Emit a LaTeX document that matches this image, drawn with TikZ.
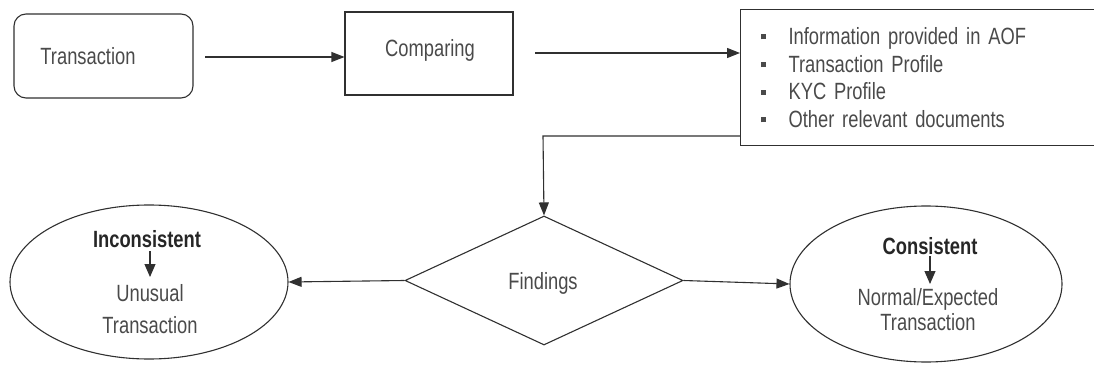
\documentclass[tikz,border=0pt]{standalone}
\usepackage{fontspec}
\setmainfont{Liberation Sans}[FakeStretch=0.78]
\usetikzlibrary{arrows.meta,shapes.geometric}
\definecolor{linec}{HTML}{303030}
\definecolor{textc}{HTML}{4A4A4A}
\definecolor{boldc}{HTML}{262626}
\tikzset{
  every node/.style={font=\fontsize{23.5}{27.7}\selectfont, text=textc},
  line/.style={draw=linec, line width=1.1pt},
  arr/.style={line, -{Triangle[length=13pt,width=10pt]}},
  smallarr/.style={line, -{Triangle[length=13pt,width=11pt]}},
  boxc/.style={line, rectangle, inner sep=0pt},
  lbl/.style={inner sep=0pt},
  bold/.style={inner sep=0pt, font=\fontsize{23.5}{27}\selectfont\bfseries, text=boldc},
}
\newcommand{\sqbul}{\rule[5pt]{5pt}{5pt}\hspace{23pt}}
\begin{document}
\begin{tikzpicture}[x=1pt,y=-1pt]
\useasboundingbox (0,0) rectangle (1094,366);
% top row
\node[boxc, rounded corners=12pt, minimum width=179pt, minimum height=84pt] (trans) at (103.5,56) {};
\node[lbl] (transt) at (88,56) {Transaction};
\node[boxc, minimum width=168pt, minimum height=83pt] (comp) at (429,53.5) {};
\node[lbl] (compt) at (430,50) {Comparing};
\node[boxc, anchor=north west, minimum width=370pt, minimum height=136pt,
      text width=330pt, inner xsep=18pt, align=left] (info) at (740,9)
  {\sqbul Information provided in AOF\\
   \sqbul Transaction Profile\\
   \sqbul KYC Profile\\
   \sqbul Other relevant documents};
\coordinate (tstart) at (205,57);
\coordinate (cstart) at (535,53);
\draw[arr] (tstart) -- (comp.west |- tstart);
\draw[arr] (cstart) -- (info.west |- cstart);
% bottom row
\node[line, diamond, inner sep=0pt, minimum width=278pt, minimum height=129pt, aspect=2.15] (find) at (544,280.5) {};
\node[lbl] (findt) at (543,283) {Findings};
\coordinate (fork) at (543,136);
\draw[arr] (info.west |- fork) -- (fork) -- (find.north);
\node[line, ellipse, inner sep=0pt, minimum width=278pt, minimum height=154pt] (incon) at (149,282) {};
\node[line, ellipse, inner sep=0pt, minimum width=272pt, minimum height=156pt] (con) at (926,284) {};
\draw[arr] (find.west) -- (incon.east);
\draw[arr] (find.east) -- (con.west);
% left ellipse text
\node[bold] (inc) at (147,239) {Inconsistent};
\node[lbl] (unu) at (150,293) {Unusual};
\node[lbl] (tr1) at (150,325) {Transaction};
\coordinate (a1s) at (150,251);
\coordinate (a1e) at (150,277);
\draw[smallarr] (a1s) -- (a1e);
% right ellipse text
\node[bold] (cons) at (930,246) {Consistent};
\node[lbl] (norm) at (928,299) {Normal/Expected};
\node[lbl] (tr2) at (928,322) {Transaction};
\coordinate (a2s) at (930,256);
\coordinate (a2e) at (930,284);
\draw[smallarr] (a2s) -- (a2e);
\end{tikzpicture}
\end{document}
